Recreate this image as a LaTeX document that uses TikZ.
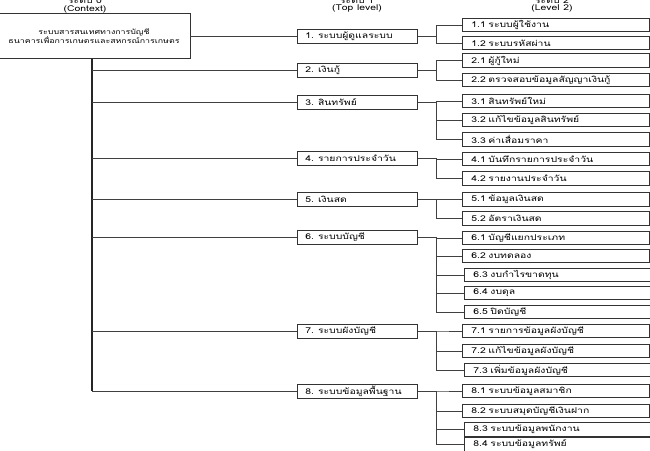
\documentclass[tikz,border=0pt]{standalone}
\usepackage{fontspec}
\newfontfamily\thaifont[Script=Thai,FakeStretch=1.3]{Loma}
\begin{document}
\begin{tikzpicture}[x=1pt,y=-1pt,
  txt/.style={font=\thaifont\fontsize{8}{9}\selectfont},
  hdr/.style={font=\thaifont\fontsize{8}{9}\selectfont, inner sep=0pt},
  ctxbox/.style={draw=black!80, line width=0.8pt, minimum width=192pt, minimum height=45pt, inner sep=0pt, align=center, font=\thaifont\fontsize{6.8}{8.5}\selectfont},
  lone/.style={draw=black!80, line width=0.7pt, minimum height=14pt, inner xsep=8pt, inner ysep=0pt, text width=104pt, align=left, anchor=west, txt},
  ltwo/.style={draw=black!80, line width=0.7pt, minimum height=13.5pt, inner xsep=9pt, inner ysep=0pt, text width=169pt, align=left, anchor=west, txt},
  conn/.style={draw=black!75, line width=0.8pt},
  trunk/.style={draw=black!85, line width=1.6pt}
]
\useasboundingbox (0,0) rectangle (650,450);
\clip (0,0) rectangle (650,450);

% headers
\node[hdr] (h0a) at (85,0) {ระดับ 0};
\node[hdr] (h0b) at (85,9) {(Context)};
\node[hdr] (h1a) at (357,0) {ระดับ 1};
\node[hdr] (h1b) at (357,8.5) {(Top level)};
\node[hdr] (h2a) at (552,0) {ระดับ 2};
\node[hdr] (h2b) at (552,8.5) {(Level 2)};

% context
\node[ctxbox] (ctx) at (94,36) {ระบบสารสนเทศทางการบัญชี\\ธนาคารเพื่อการเกษตรและสหกรณ์การเกษตร};

% level 1
\node[lone] (a1) at (297,36) {1. ระบบผู้ดูแลระบบ};
\node[lone] (a2) at (297,70) {2. เงินกู้};
\node[lone] (a3) at (297,102) {3. สินทรัพย์};
\node[lone] (a4) at (297,158) {4. รายการประจำวัน};
\node[lone] (a5) at (297,199) {5. เงินสด};
\node[lone] (a6) at (297,237) {6. ระบบบัญชี};
\node[lone] (a7) at (297,331) {7. ระบบผังบัญชี};
\node[lone] (a8) at (297,391) {8. ระบบข้อมูลพื้นฐาน};

% level 2
\node[ltwo] (b11) at (462,25) {1.1 ระบบผู้ใช้งาน};
\node[ltwo] (b12) at (462,43) {1.2 ระบบรหัสผ่าน};
\node[ltwo] (b21) at (462,60.5) {2.1 ผู้กู้ใหม่};
\node[ltwo] (b22) at (462,80) {2.2 ตรวจสอบข้อมูลสัญญาเงินกู้};
\node[ltwo] (b31) at (462,101) {3.1 สินทรัพย์ใหม่};
\node[ltwo] (b32) at (462,120) {3.2 แก้ไขข้อมูลสินทรัพย์};
\node[ltwo] (b33) at (462,139.5) {3.3 ค่าเสื่อมราคา};
\node[ltwo] (b41) at (462,159) {4.1 บันทึกรายการประจำวัน};
\node[ltwo] (b42) at (462,178.5) {4.2 รายงานประจำวัน};
\node[ltwo] (b51) at (462,199.5) {5.1 ข้อมูลเงินสด};
\node[ltwo] (b52) at (462,218.5) {5.2 อัตราเงินสด};
\node[ltwo] (b61) at (462,238) {6.1 บัญชีแยกประเภท};
\node[ltwo] (b62) at (462,256) {6.2 งบทดลอง};
\node[ltwo] (b63) at (464,275) {6.3 งบกำไรขาดทุน};
\node[ltwo] (b64) at (464,293) {6.4 งบดุล};
\node[ltwo] (b65) at (464,312) {6.5 ปิดบัญชี};
\node[ltwo] (b71) at (462,331) {7.1 รายการข้อมูลผังบัญชี};
\node[ltwo] (b72) at (462,351) {7.2 แก้ไขข้อมูลผังบัญชี};
\node[ltwo] (b73) at (464,370) {7.3 เพิ่มข้อมูลผังบัญชี};
\node[ltwo] (b81) at (462,391) {8.1 ระบบข้อมูลสมาชิก};
\node[ltwo] (b82) at (462,411) {8.2 ระบบสมุดบัญชีเงินฝาก};
\node[ltwo] (b83) at (464,429.5) {8.3 ระบบข้อมูลพนักงาน};
\node[ltwo] (b84) at (464,444.5) {8.4 ระบบข้อมูลทรัพย์};

% trunk
\coordinate (tt) at (92,58.5);
\coordinate (tb) at (92,391);
\draw[trunk] (tt) -- (tb);
\draw[conn] (ctx.east) -- (a1.west);
\foreach \n in {a2,a3,a4,a5,a6,a7,a8}{
  \draw[conn] (\n.west -| tt) -- (\n.west);
}

% branches
\foreach \p/\cs in {a1/{b11,b12}, a2/{b21,b22}, a3/{b31,b32,b33}, a4/{b41,b42}, a5/{b51,b52}, a6/{b61,b62,b63,b64,b65}, a7/{b71,b72,b73}, a8/{b81,b82,b83,b84}}{
  \foreach \c in \cs {
    \draw[conn] (\p.east) -- ++(19,0) |- (\c.west);
  }
}
\end{tikzpicture}
\end{document}
